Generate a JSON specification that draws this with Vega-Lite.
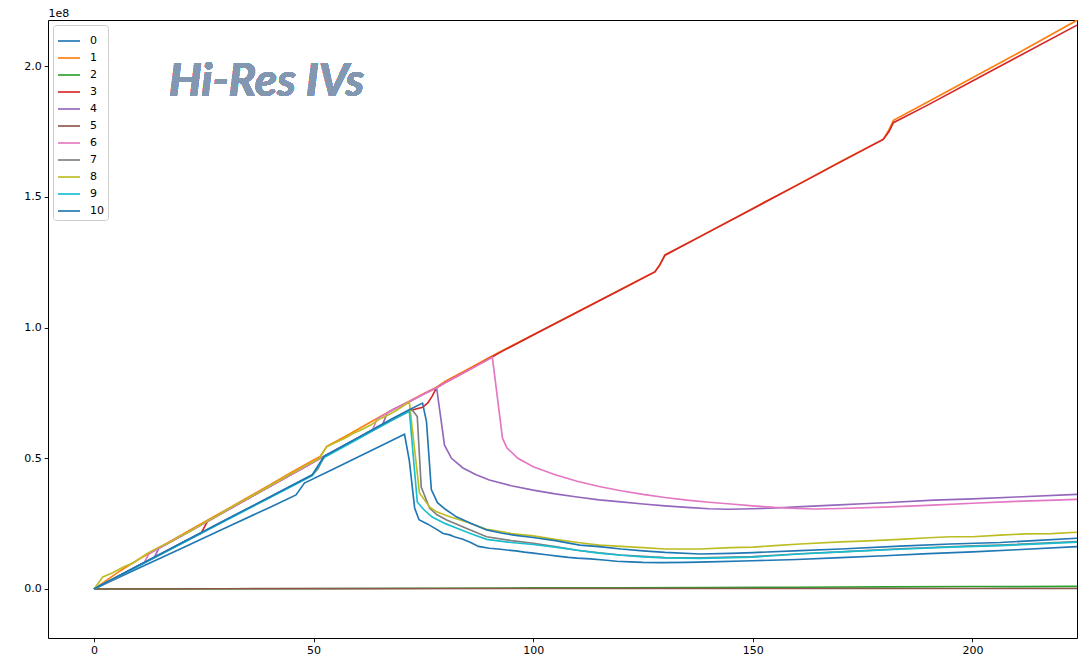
{
"$schema": "https://vega.github.io/schema/vega-lite/v6.json",
"width": 1029, "height": 618,
"autosize": {"type": "none"},
"padding": {"left": 48, "top": 20, "right": 12, "bottom": 18},
"background": "white",
"config": {
  "view": {"stroke": "black", "strokeWidth": 1},
  "axis": {"grid": false, "domain": false, "tickColor": "black", "tickSize": 3.85, "tickWidth": 0.9, "labelColor": "black", "labelFont": "DejaVu Sans", "labelFontSize": 11, "labelPadding": 3},
  "legend": {"orient": "top-left", "offset": 5, "padding": 4, "titlePadding": 0, "strokeColor": "#cccccc", "fillColor": "rgba(255,255,255,0.8)", "cornerRadius": 3, "symbolType": "stroke", "symbolSize": 484, "symbolStrokeWidth": 1.65, "labelFont": "DejaVu Sans", "labelFontSize": 11, "labelColor": "black", "labelOffset": 9, "rowPadding": -0.9}
},
"data": {"values": [
{"series":"0","x":0,"y":0},{"series":"0","x":10,"y":7800000},{"series":"0","x":20,"y":15600000},{"series":"0","x":30,"y":23400000},{"series":"0","x":40,"y":31200000},{"series":"0","x":46,"y":36000000},{"series":"0","x":47.9,"y":40500000},{"series":"0","x":55,"y":46300000},{"series":"0","x":60,"y":50400000},{"series":"0","x":65,"y":54500000},{"series":"0","x":70.7,"y":59200000},{"series":"0","x":71.8,"y":49000000},{"series":"0","x":73,"y":31000000},{"series":"0","x":74,"y":26500000},{"series":"0","x":76,"y":24800000},{"series":"0","x":78,"y":22800000},{"series":"0","x":79.5,"y":21200000},{"series":"0","x":81,"y":20700000},{"series":"0","x":82,"y":20000000},{"series":"0","x":84,"y":19000000},{"series":"0","x":86,"y":17600000},{"series":"0","x":87.5,"y":16300000},{"series":"0","x":90,"y":15600000},{"series":"0","x":92,"y":15300000},{"series":"0","x":94,"y":14900000},{"series":"0","x":96,"y":14600000},{"series":"0","x":98,"y":14100000},{"series":"0","x":100,"y":13700000},{"series":"0","x":103,"y":13100000},{"series":"0","x":106,"y":12500000},{"series":"0","x":108,"y":12100000},{"series":"0","x":110,"y":11800000},{"series":"0","x":113,"y":11500000},{"series":"0","x":116,"y":11100000},{"series":"0","x":119,"y":10600000},{"series":"0","x":122,"y":10400000},{"series":"0","x":125,"y":10200000},{"series":"0","x":129,"y":10100000},{"series":"0","x":135,"y":10200000},{"series":"0","x":140,"y":10400000},{"series":"0","x":150,"y":10800000},{"series":"0","x":160,"y":11300000},{"series":"0","x":170,"y":12000000},{"series":"0","x":180,"y":12700000},{"series":"0","x":190,"y":13500000},{"series":"0","x":200,"y":14200000},{"series":"0","x":210,"y":15000000},{"series":"0","x":223.8,"y":16200000},
{"series":"1","x":0,"y":0},{"series":"1","x":3,"y":3500000},{"series":"1","x":6,"y":7000000},{"series":"1","x":10,"y":11200000},{"series":"1","x":15,"y":16000000},{"series":"1","x":20,"y":20800000},{"series":"1","x":25,"y":25500000},{"series":"1","x":30,"y":30200000},{"series":"1","x":35,"y":35000000},{"series":"1","x":40,"y":39800000},{"series":"1","x":45,"y":44700000},{"series":"1","x":50,"y":49400000},{"series":"1","x":51.5,"y":50700000},{"series":"1","x":53,"y":54600000},{"series":"1","x":58,"y":59100000},{"series":"1","x":64.5,"y":65300000},{"series":"1","x":68,"y":68600000},{"series":"1","x":72,"y":72000000},{"series":"1","x":75,"y":74700000},{"series":"1","x":78,"y":77200000},{"series":"1","x":80,"y":79500000},{"series":"1","x":85,"y":84000000},{"series":"1","x":90,"y":88600000},{"series":"1","x":93,"y":91200000},{"series":"1","x":100,"y":97300000},{"series":"1","x":110,"y":106000000},{"series":"1","x":120,"y":114700000},{"series":"1","x":127.7,"y":121400000},{"series":"1","x":128.8,"y":124000000},{"series":"1","x":130,"y":127800000},{"series":"1","x":137.9,"y":134800000},{"series":"1","x":150,"y":145600000},{"series":"1","x":160,"y":154500000},{"series":"1","x":170,"y":163500000},{"series":"1","x":179.7,"y":172100000},{"series":"1","x":181,"y":175700000},{"series":"1","x":182,"y":179300000},{"series":"1","x":190,"y":186500000},{"series":"1","x":200,"y":195600000},{"series":"1","x":210,"y":204700000},{"series":"1","x":223.8,"y":217600000},
{"series":"2","x":0,"y":0},{"series":"2","x":20,"y":50000},{"series":"2","x":40,"y":100000},{"series":"2","x":60,"y":200000},{"series":"2","x":80,"y":300000},{"series":"2","x":100,"y":400000},{"series":"2","x":120,"y":450000},{"series":"2","x":140,"y":550000},{"series":"2","x":160,"y":650000},{"series":"2","x":180,"y":800000},{"series":"2","x":200,"y":950000},{"series":"2","x":210,"y":900000},{"series":"2","x":223.8,"y":1000000},
{"series":"3","x":0,"y":0},{"series":"3","x":10,"y":8800000},{"series":"3","x":20,"y":17600000},{"series":"3","x":24.4,"y":21400000},{"series":"3","x":25.8,"y":25800000},{"series":"3","x":30,"y":29800000},{"series":"3","x":35,"y":34500000},{"series":"3","x":40,"y":39200000},{"series":"3","x":45,"y":43900000},{"series":"3","x":50,"y":48600000},{"series":"3","x":51.5,"y":50000000},{"series":"3","x":52.4,"y":50700000},{"series":"3","x":55,"y":53100000},{"series":"3","x":60,"y":57700000},{"series":"3","x":64,"y":61200000},{"series":"3","x":68,"y":64800000},{"series":"3","x":72,"y":68300000},{"series":"3","x":74.8,"y":69500000},{"series":"3","x":76,"y":71200000},{"series":"3","x":77,"y":73800000},{"series":"3","x":78,"y":77000000},{"series":"3","x":80,"y":79000000},{"series":"3","x":85,"y":83500000},{"series":"3","x":90,"y":88200000},{"series":"3","x":93,"y":91000000},{"series":"3","x":100,"y":97200000},{"series":"3","x":110,"y":105900000},{"series":"3","x":120,"y":114600000},{"series":"3","x":127.7,"y":121300000},{"series":"3","x":128.8,"y":123900000},{"series":"3","x":130,"y":127700000},{"series":"3","x":137.9,"y":134700000},{"series":"3","x":150,"y":145500000},{"series":"3","x":160,"y":154400000},{"series":"3","x":170,"y":163400000},{"series":"3","x":179.7,"y":172000000},{"series":"3","x":181,"y":175000000},{"series":"3","x":182,"y":178400000},{"series":"3","x":190,"y":185300000},{"series":"3","x":200,"y":194300000},{"series":"3","x":210,"y":203300000},{"series":"3","x":223.8,"y":215700000},
{"series":"4","x":0,"y":0},{"series":"4","x":10,"y":8800000},{"series":"4","x":13.7,"y":12000000},{"series":"4","x":14.8,"y":15600000},{"series":"4","x":20,"y":20400000},{"series":"4","x":25.8,"y":25800000},{"series":"4","x":30,"y":29800000},{"series":"4","x":35,"y":34500000},{"series":"4","x":40,"y":39200000},{"series":"4","x":45,"y":43900000},{"series":"4","x":50,"y":48600000},{"series":"4","x":51.5,"y":50000000},{"series":"4","x":52.4,"y":50700000},{"series":"4","x":55,"y":53100000},{"series":"4","x":60,"y":57700000},{"series":"4","x":65.7,"y":63000000},{"series":"4","x":66.8,"y":67400000},{"series":"4","x":68,"y":68600000},{"series":"4","x":72,"y":71800000},{"series":"4","x":75,"y":74500000},{"series":"4","x":78,"y":77000000},{"series":"4","x":78.7,"y":68500000},{"series":"4","x":79.8,"y":55000000},{"series":"4","x":81.4,"y":50000000},{"series":"4","x":84,"y":46300000},{"series":"4","x":87,"y":43700000},{"series":"4","x":90,"y":41700000},{"series":"4","x":95,"y":39500000},{"series":"4","x":100,"y":37800000},{"series":"4","x":105,"y":36400000},{"series":"4","x":110,"y":35200000},{"series":"4","x":115,"y":34100000},{"series":"4","x":120,"y":33300000},{"series":"4","x":125,"y":32500000},{"series":"4","x":130,"y":31800000},{"series":"4","x":135,"y":31200000},{"series":"4","x":140,"y":30700000},{"series":"4","x":144.4,"y":30500000},{"series":"4","x":150,"y":30700000},{"series":"4","x":155,"y":31000000},{"series":"4","x":160,"y":31400000},{"series":"4","x":168.5,"y":32100000},{"series":"4","x":175,"y":32600000},{"series":"4","x":180,"y":33000000},{"series":"4","x":191.3,"y":34000000},{"series":"4","x":200,"y":34500000},{"series":"4","x":210,"y":35200000},{"series":"4","x":223.8,"y":36200000},
{"series":"5","x":0,"y":0},{"series":"5","x":30,"y":100000},{"series":"5","x":60,"y":150000},{"series":"5","x":100,"y":200000},{"series":"5","x":150,"y":200000},{"series":"5","x":200,"y":200000},{"series":"5","x":223.8,"y":200000},
{"series":"6","x":0,"y":0},{"series":"6","x":10,"y":8800000},{"series":"6","x":11.4,"y":10000000},{"series":"6","x":12.5,"y":13400000},{"series":"6","x":14.8,"y":15600000},{"series":"6","x":20,"y":20400000},{"series":"6","x":25.8,"y":25800000},{"series":"6","x":30,"y":29800000},{"series":"6","x":35,"y":34500000},{"series":"6","x":40,"y":39200000},{"series":"6","x":45,"y":43900000},{"series":"6","x":50,"y":48600000},{"series":"6","x":51.5,"y":50000000},{"series":"6","x":52.4,"y":50700000},{"series":"6","x":55,"y":53100000},{"series":"6","x":60,"y":57700000},{"series":"6","x":63.4,"y":60800000},{"series":"6","x":64.5,"y":65200000},{"series":"6","x":68,"y":68500000},{"series":"6","x":72,"y":71800000},{"series":"6","x":75,"y":74500000},{"series":"6","x":78,"y":77000000},{"series":"6","x":80,"y":79000000},{"series":"6","x":85,"y":83500000},{"series":"6","x":90.7,"y":88600000},{"series":"6","x":93,"y":57700000},{"series":"6","x":94,"y":54000000},{"series":"6","x":96.5,"y":50000000},{"series":"6","x":100,"y":46800000},{"series":"6","x":105,"y":43700000},{"series":"6","x":110,"y":41200000},{"series":"6","x":115,"y":39200000},{"series":"6","x":120,"y":37600000},{"series":"6","x":125,"y":36200000},{"series":"6","x":130,"y":35000000},{"series":"6","x":135,"y":34000000},{"series":"6","x":140,"y":33200000},{"series":"6","x":145,"y":32500000},{"series":"6","x":150,"y":31800000},{"series":"6","x":155,"y":31200000},{"series":"6","x":160,"y":30800000},{"series":"6","x":164,"y":30600000},{"series":"6","x":170,"y":30800000},{"series":"6","x":180,"y":31300000},{"series":"6","x":191,"y":32100000},{"series":"6","x":200,"y":32800000},{"series":"6","x":210,"y":33500000},{"series":"6","x":223.8,"y":34300000},
{"series":"7","x":0,"y":0},{"series":"7","x":10,"y":8800000},{"series":"7","x":20,"y":17600000},{"series":"7","x":30,"y":26400000},{"series":"7","x":40,"y":35100000},{"series":"7","x":49.7,"y":43600000},{"series":"7","x":51,"y":46000000},{"series":"7","x":52.4,"y":50700000},{"series":"7","x":55,"y":53100000},{"series":"7","x":60,"y":57700000},{"series":"7","x":64,"y":61400000},{"series":"7","x":68,"y":65100000},{"series":"7","x":72.3,"y":68800000},{"series":"7","x":73.6,"y":66000000},{"series":"7","x":74.5,"y":39000000},{"series":"7","x":76.4,"y":31000000},{"series":"7","x":78,"y":28500000},{"series":"7","x":80.3,"y":26400000},{"series":"7","x":85,"y":23000000},{"series":"7","x":89.4,"y":20000000},{"series":"7","x":95,"y":18500000},{"series":"7","x":100,"y":17500000},{"series":"7","x":105,"y":16200000},{"series":"7","x":110,"y":14800000},{"series":"7","x":115,"y":13800000},{"series":"7","x":120,"y":13000000},{"series":"7","x":125,"y":12500000},{"series":"7","x":130,"y":12000000},{"series":"7","x":138,"y":11900000},{"series":"7","x":150,"y":12400000},{"series":"7","x":160.7,"y":13500000},{"series":"7","x":170,"y":14200000},{"series":"7","x":183.5,"y":15400000},{"series":"7","x":200,"y":16500000},{"series":"7","x":206.3,"y":16800000},{"series":"7","x":223.8,"y":18100000},
{"series":"8","x":0,"y":0},{"series":"8","x":2,"y":4600000},{"series":"8","x":4,"y":6000000},{"series":"8","x":6.7,"y":8400000},{"series":"8","x":9,"y":10000000},{"series":"8","x":12.2,"y":13700000},{"series":"8","x":15,"y":16200000},{"series":"8","x":18,"y":18500000},{"series":"8","x":20,"y":20600000},{"series":"8","x":22,"y":22200000},{"series":"8","x":24,"y":24300000},{"series":"8","x":26,"y":26200000},{"series":"8","x":28,"y":27900000},{"series":"8","x":30,"y":30000000},{"series":"8","x":32,"y":32000000},{"series":"8","x":34,"y":33700000},{"series":"8","x":36,"y":35700000},{"series":"8","x":38,"y":37400000},{"series":"8","x":40,"y":39500000},{"series":"8","x":42,"y":41300000},{"series":"8","x":44,"y":43300000},{"series":"8","x":46,"y":45100000},{"series":"8","x":48,"y":47100000},{"series":"8","x":50,"y":48800000},{"series":"8","x":51.3,"y":50000000},{"series":"8","x":52.9,"y":54300000},{"series":"8","x":55,"y":56000000},{"series":"8","x":57,"y":57600000},{"series":"8","x":59,"y":59500000},{"series":"8","x":61,"y":61000000},{"series":"8","x":63,"y":62700000},{"series":"8","x":65,"y":65000000},{"series":"8","x":67,"y":66600000},{"series":"8","x":69,"y":68500000},{"series":"8","x":71.8,"y":71500000},{"series":"8","x":74.1,"y":36700000},{"series":"8","x":76.4,"y":31400000},{"series":"8","x":78,"y":29500000},{"series":"8","x":81,"y":27600000},{"series":"8","x":85,"y":25500000},{"series":"8","x":89.4,"y":22800000},{"series":"8","x":92,"y":22200000},{"series":"8","x":95,"y":21200000},{"series":"8","x":100,"y":20300000},{"series":"8","x":105,"y":19000000},{"series":"8","x":110.6,"y":17700000},{"series":"8","x":115,"y":16800000},{"series":"8","x":120,"y":16300000},{"series":"8","x":125,"y":15800000},{"series":"8","x":130,"y":15300000},{"series":"8","x":138,"y":15300000},{"series":"8","x":145,"y":15800000},{"series":"8","x":150,"y":16000000},{"series":"8","x":155,"y":16600000},{"series":"8","x":160.7,"y":17200000},{"series":"8","x":170,"y":18000000},{"series":"8","x":175,"y":18300000},{"series":"8","x":183.5,"y":19000000},{"series":"8","x":190,"y":19600000},{"series":"8","x":195,"y":20000000},{"series":"8","x":200,"y":20000000},{"series":"8","x":206.3,"y":20600000},{"series":"8","x":212,"y":21100000},{"series":"8","x":218,"y":21200000},{"series":"8","x":223.8,"y":21700000},
{"series":"9","x":0,"y":0},{"series":"9","x":10,"y":8700000},{"series":"9","x":20,"y":17400000},{"series":"9","x":30,"y":26200000},{"series":"9","x":40,"y":34900000},{"series":"9","x":49.7,"y":43400000},{"series":"9","x":52.4,"y":50300000},{"series":"9","x":55,"y":52700000},{"series":"9","x":60,"y":57300000},{"series":"9","x":64,"y":61000000},{"series":"9","x":68,"y":64600000},{"series":"9","x":71.8,"y":68000000},{"series":"9","x":73.6,"y":33300000},{"series":"9","x":75,"y":30500000},{"series":"9","x":77,"y":27500000},{"series":"9","x":80,"y":25000000},{"series":"9","x":82.5,"y":23300000},{"series":"9","x":86,"y":21000000},{"series":"9","x":89.4,"y":19000000},{"series":"9","x":95,"y":17800000},{"series":"9","x":100,"y":17000000},{"series":"9","x":105,"y":16000000},{"series":"9","x":110,"y":14800000},{"series":"9","x":115,"y":13700000},{"series":"9","x":120,"y":12900000},{"series":"9","x":125,"y":12300000},{"series":"9","x":130,"y":11900000},{"series":"9","x":138,"y":11700000},{"series":"9","x":150,"y":12200000},{"series":"9","x":160.7,"y":13400000},{"series":"9","x":170,"y":14200000},{"series":"9","x":183.5,"y":15200000},{"series":"9","x":195,"y":16000000},{"series":"9","x":206.3,"y":16600000},{"series":"9","x":223.8,"y":17900000},
{"series":"10","x":0,"y":0},{"series":"10","x":10,"y":8850000},{"series":"10","x":20,"y":17700000},{"series":"10","x":30,"y":26500000},{"series":"10","x":40,"y":35200000},{"series":"10","x":49.7,"y":43700000},{"series":"10","x":52.4,"y":50800000},{"series":"10","x":55,"y":53200000},{"series":"10","x":60,"y":57800000},{"series":"10","x":64,"y":61500000},{"series":"10","x":68,"y":65200000},{"series":"10","x":72,"y":68800000},{"series":"10","x":74.8,"y":71100000},{"series":"10","x":75.7,"y":64000000},{"series":"10","x":76.8,"y":38000000},{"series":"10","x":78.2,"y":33000000},{"series":"10","x":80,"y":30500000},{"series":"10","x":82.5,"y":27600000},{"series":"10","x":86,"y":25000000},{"series":"10","x":89.4,"y":22600000},{"series":"10","x":93,"y":21300000},{"series":"10","x":96,"y":20500000},{"series":"10","x":100,"y":19700000},{"series":"10","x":105,"y":18500000},{"series":"10","x":110.6,"y":16800000},{"series":"10","x":115,"y":16200000},{"series":"10","x":120,"y":15300000},{"series":"10","x":125,"y":14600000},{"series":"10","x":130,"y":14000000},{"series":"10","x":138,"y":13400000},{"series":"10","x":145,"y":13600000},{"series":"10","x":150,"y":13900000},{"series":"10","x":160.7,"y":14700000},{"series":"10","x":170,"y":15300000},{"series":"10","x":183.5,"y":16400000},{"series":"10","x":195,"y":17200000},{"series":"10","x":206.3,"y":17800000},{"series":"10","x":215,"y":18600000},{"series":"10","x":223.8,"y":19400000}
]},
"layer": [
  {
    "mark": {"type": "line", "strokeWidth": 1.65, "clip": true},
    "encoding": {
      "x": {"field": "x", "type": "quantitative", "scale": {"domain": [-10.47, 223.8], "nice": false, "zero": false}, "axis": {"values": [0, 50, 100, 150, 200], "title": null}},
      "y": {"field": "y", "type": "quantitative", "scale": {"domain": [-18750000, 217670000], "nice": false, "zero": false}, "axis": {"values": [0, 50000000, 100000000, 150000000, 200000000], "labelExpr": "format(datum.value/1e8, '.1f')", "title": "1e8", "titleAngle": 0, "titleX": 0, "titleY": -4, "titleAlign": "left", "titleBaseline": "alphabetic", "titleFont": "DejaVu Sans", "titleFontSize": 11, "titleFontWeight": "normal", "titleColor": "black"}},
      "color": {"field": "series", "type": "nominal", "scale": {"domain": ["0","1","2","3","4","5","6","7","8","9","10"], "range": ["#1f77b4","#ff7f0e","#2ca02c","#d62728","#9467bd","#8c564b","#e377c2","#7f7f7f","#bcbd22","#17becf","#1f77b4"]}, "legend": {"title": null}}
    }
  },
  {
    "mark": {"type": "text", "align": "left", "baseline": "alphabetic", "font": "Lato", "fontSize": 46, "fontWeight": "bold", "fontStyle": "italic", "color": "#8497b0"},
    "encoding": {
      "x": {"datum": 17, "type": "quantitative"},
      "y": {"datum": 188500000, "type": "quantitative"},
      "text": {"value": "Hi-Res IVs"}
    }
  }
]
}
